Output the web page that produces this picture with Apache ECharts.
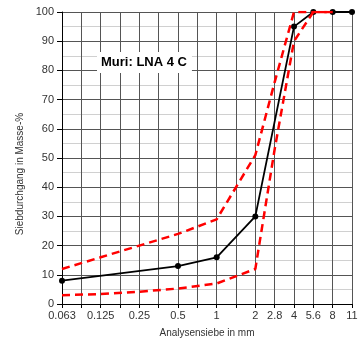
<!DOCTYPE html>
<html>
<head>
<meta charset="utf-8">
<script src="https://cdn.jsdelivr.net/npm/echarts@6/dist/echarts.min.js"></script>
<style>html,body{margin:0;padding:0;background:#fff}#c{width:358px;height:340px}</style>
</head>
<body>
<div id="c"></div>
<script>
// Sieve positions (half-octave grid) and labelled ticks
const sieves = ['0.063','0.09','0.125','0.18','0.25','0.355','0.5','0.71','1','1.4','2','2.8','4','5.6','8','11'];
const tickLabels = ['0.063','0.125','0.25','0.5','1','2','2.8','4','5.6','8','11'];
// Sample grading curve
const sampleSizes = ['0.063','0.5','1','2','4','5.6','8','11'];
const sampleValues = [8, 13, 16, 30, 95, 100, 100, 100];
// Upper limit curve
const upperSizes = ['0.063','0.125','0.25','0.5','1','2','2.8','4','5.6','8'];
const upperValues = [12, 16, 20, 24, 29, 51, 76, 100, 100, 100];
// Lower limit curve
const lowerSizes = ['0.063','0.125','0.25','0.5','1','2','2.8','4','5.6','8'];
const lowerValues = [3, 3.4, 4.2, 5.3, 7, 12, 53, 90, 100, 100];
const yTitle = 'Siebdurchgang in Masse-%';
const xTitle = 'Analysensiebe in mm';
const chartTitle = 'Muri: LNA 4 C';

const pairs = (xs, ys) => xs.map((x, i) => [x, ys[i]]);
const font = 'Liberation Sans';
const chart = echarts.init(document.getElementById('c'), null, {renderer: 'canvas'});
chart.setOption({
  animation: false,
  backgroundColor: '#fff',
  title: {
    text: chartTitle, left: 97, top: 52, padding: [4, 5, 4, 4],
    backgroundColor: '#fff',
    textStyle: {fontFamily: font, fontSize: 13, fontWeight: 'bold', color: '#000'}
  },
  graphic: [{
    type: 'text', x: 20, y: 174, rotation: Math.PI / 2,
    style: {text: yTitle, fontFamily: font, fontSize: 10, fill: '#333', align: 'center', verticalAlign: 'middle'}
  }],
  grid: {left: 62, right: 6, top: 12, bottom: 36, outerBoundsMode: 'none', containLabel: false},
  xAxis: {
    type: 'category', data: sieves, boundaryGap: false,
    name: xTitle, nameLocation: 'middle', nameGap: 24,
    nameTextStyle: {fontFamily: font, fontSize: 10, color: '#333'},
    axisLine: {lineStyle: {color: '#000', width: 1}},
    axisTick: {show: true, interval: 0, length: 4, lineStyle: {color: '#000'}},
    axisLabel: {
      interval: 0, margin: 6, fontFamily: font, fontSize: 11, color: '#333',
      formatter: v => tickLabels.includes(v) ? v : ''
    },
    splitLine: {show: true, interval: 0, lineStyle: {color: '#555', width: 1}}
  },
  yAxis: {
    type: 'value', min: 0, max: 100, interval: 10,
    axisLine: {show: true, lineStyle: {color: '#000', width: 1}},
    axisTick: {show: true, length: 5, lineStyle: {color: '#000'}},
    axisLabel: {margin: 8, fontFamily: font, fontSize: 11, color: '#333'},
    splitLine: {show: true, lineStyle: {color: '#555', width: 1}},
    minorTick: {show: false, splitNumber: 2},
    minorSplitLine: {show: true, lineStyle: {color: '#d0d0d0', width: 1}}
  },
  series: [
    {
      type: 'line', data: pairs(sampleSizes, sampleValues),
      symbol: 'circle', symbolSize: 6, z: 3,
      lineStyle: {color: '#000', width: 1.8},
      itemStyle: {color: '#000'}
    },
    {
      type: 'line', data: pairs(upperSizes, upperValues),
      symbol: 'none', z: 4,
      lineStyle: {color: '#ff0000', width: 2.5, type: [8, 5]}
    },
    {
      type: 'line', data: pairs(lowerSizes, lowerValues),
      symbol: 'none', z: 4,
      lineStyle: {color: '#ff0000', width: 2.5, type: [8, 5]}
    }
  ]
});
</script>
</body>
</html>
